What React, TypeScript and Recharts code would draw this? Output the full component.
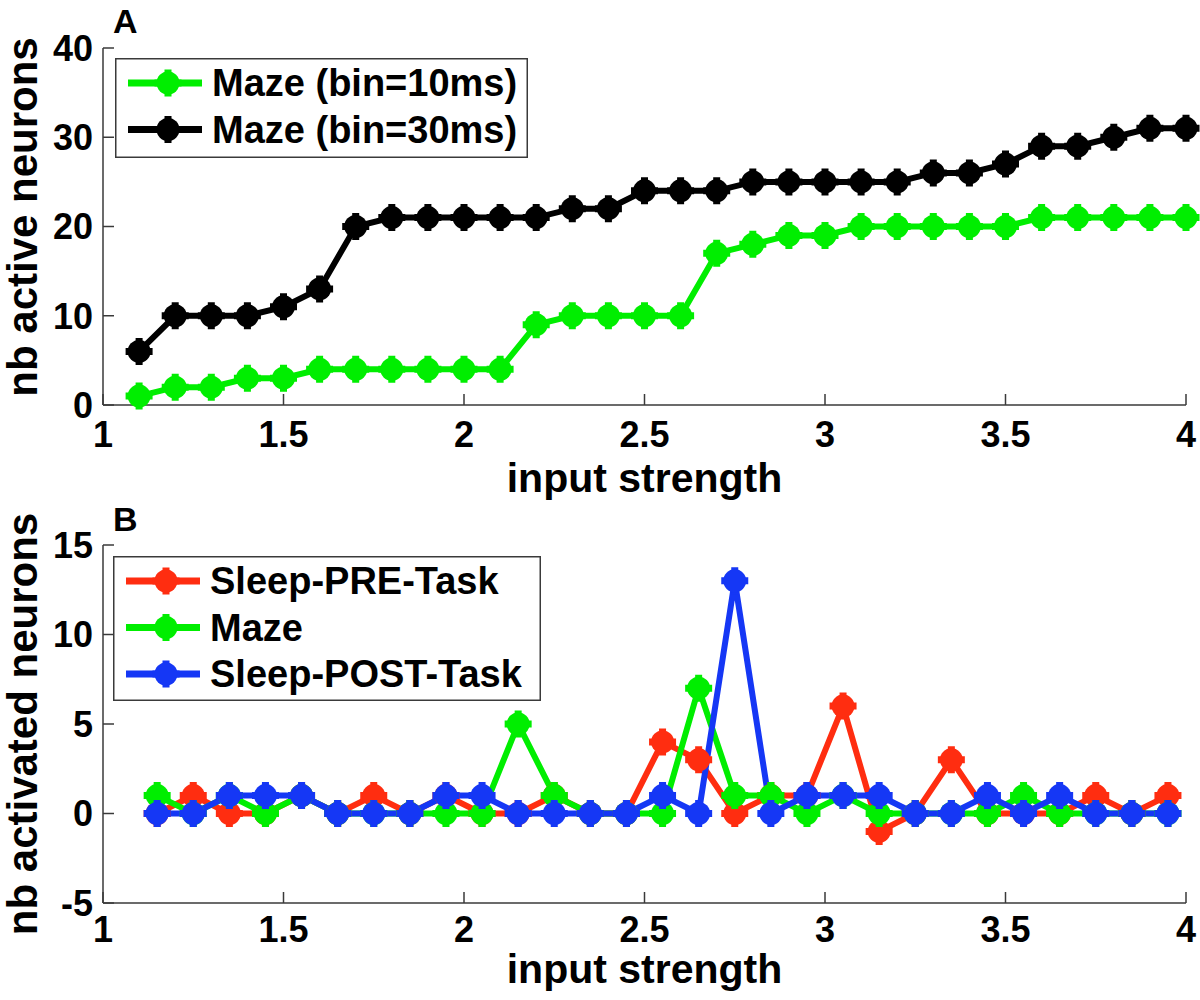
import React from 'react';
import { LineChart, Line, XAxis, YAxis, Legend } from 'recharts';

// ---------- Panel A data ----------
const xA = [1.1, 1.2, 1.3, 1.4, 1.5, 1.6, 1.7, 1.8, 1.9, 2.0, 2.1, 2.2, 2.3, 2.4, 2.5, 2.6, 2.7, 2.8, 2.9, 3.0, 3.1, 3.2, 3.3, 3.4, 3.5, 3.6, 3.7, 3.8, 3.9, 4.0];
const mazeBin10 = [1, 2, 2, 3, 3, 4, 4, 4, 4, 4, 4, 9, 10, 10, 10, 10, 17, 18, 19, 19, 20, 20, 20, 20, 20, 21, 21, 21, 21, 21];
const mazeBin30 = [6, 10, 10, 10, 11, 13, 20, 21, 21, 21, 21, 21, 22, 22, 24, 24, 24, 25, 25, 25, 25, 25, 26, 26, 27, 29, 29, 30, 31, 31];

// ---------- Panel B data ----------
const xB = [1.15, 1.25, 1.35, 1.45, 1.55, 1.65, 1.75, 1.85, 1.95, 2.05, 2.15, 2.25, 2.35, 2.45, 2.55, 2.65, 2.75, 2.85, 2.95, 3.05, 3.15, 3.25, 3.35, 3.45, 3.55, 3.65, 3.75, 3.85, 3.95];
const sleepPre = [0, 1, 0, 0, 1, 0, 1, 0, 1, 0, 0, 1, 0, 0, 4, 3, 0, 1, 1, 6, -1, 0, 3, 0, 0, 0, 1, 0, 1];
const mazeB = [1, 0, 1, 0, 1, 0, 0, 0, 0, 0, 5, 1, 0, 0, 0, 7, 1, 1, 0, 1, 0, 0, 0, 0, 1, 0, 0, 0, 0];
const sleepPost = [0, 0, 1, 1, 1, 0, 0, 0, 1, 1, 0, 0, 0, 0, 1, 0, 13, 0, 1, 1, 1, 0, 0, 1, 0, 1, 0, 0, 0];

// ---------- Ticks / labels ----------
const xTicks = [1, 1.5, 2, 2.5, 3, 3.5, 4];
const yTicksA = [0, 10, 20, 30, 40];
const yTicksB = [-5, 0, 5, 10, 15];
const xLabel = 'input strength';
const yLabelA = 'nb active neurons';
const yLabelB = 'nb activated neurons';
const namesA = ['Maze (bin=10ms)', 'Maze (bin=30ms)'];
const namesB = ['Sleep-PRE-Task', 'Maze', 'Sleep-POST-Task'];

const GREEN = '#00ee00';
const BLACK = '#000000';
const RED = '#ff2d10';
const BLUE = '#1537f5';
const AXIS = '#3a3a3a';
const FONT = '"Liberation Sans", Arial, Helvetica, sans-serif';

const colorsA = [GREEN, BLACK];
const colorsB = [RED, GREEN, BLUE];

const dataA = xA.map((x, i) => ({ x, m10: mazeBin10[i], m30: mazeBin30[i] }));
const dataB = xB.map((x, i) => ({ x, pre: sleepPre[i], maze: mazeB[i], post: sleepPost[i] }));

const Marker = ({ cx, cy, color }: { cx?: number; cy?: number; color: string }) => {
  if (cx == null || cy == null || isNaN(cx) || isNaN(cy)) return null;
  return (
    <g>
      <path d={`M${cx - 13.5},${cy}H${cx + 13.5}M${cx},${cy - 13.5}V${cy + 13.5}`} stroke={color} strokeWidth={7} />
      <circle cx={cx} cy={cy} r={11.5} fill={color} />
    </g>
  );
};

const makeDot = (color: string, prefix: string) => (p: any) => (
  <Marker key={`${prefix}-${p.index}`} cx={p.cx} cy={p.cy} color={color} />
);

const makeLegend = (w: number, h: number, names: string[], colors: string[]) => () => (
  <svg width={w} height={h} style={{ display: 'block', overflow: 'visible' }}>
    <rect x={0.75} y={0.75} width={w - 1.5} height={h - 1.5} fill="#fff" stroke={AXIS} strokeWidth={1.5} />
    {names.map((name, i) => {
      const y = 25 + i * 46.5;
      return (
        <g key={i}>
          <line x1={13} x2={87} y1={y} y2={y} stroke={colors[i]} strokeWidth={7} />
          <Marker cx={53} cy={y} color={colors[i]} />
          <text x={97} y={y} dominantBaseline="central" fontFamily={FONT} fontWeight="bold" fontSize={38} fill="#000">
            {name}
          </text>
        </g>
      );
    })}
  </svg>
);

const tickStyle = { fill: '#000', fontSize: 36, fontWeight: 'bold', fontFamily: FONT } as any;
const axisLineStyle = { stroke: AXIS, strokeWidth: 1.5 };

const yLabelContent = (label: string, cy: number, panel: string, panelY: number) => () => (
  <g>
    <text
      x={37}
      y={cy}
      transform={`rotate(-90, 37, ${cy})`}
      textAnchor="middle"
      fontFamily={FONT}
      fontWeight="bold"
      fontSize={42}
      fill="#000"
    >
      {label}
    </text>
    <text x={113} y={panelY} fontFamily={FONT} fontWeight="bold" fontSize={34} fill="#000">
      {panel}
    </text>
  </g>
);

const xLabelContent = (baseline: number) => () => (
  <text x={644.5} y={baseline} textAnchor="middle" fontFamily={FONT} fontWeight="bold" fontSize={41} fill="#000">
    {xLabel}
  </text>
);

export default function App() {
  return (
    <div style={{ position: 'absolute', left: 0, top: 0, width: 1200, height: 1000, background: '#fff' }}>
      <div style={{ position: 'absolute', left: 0, top: 0 }}>
        <LineChart width={1200} height={500} data={dataA} margin={{ top: 48, right: 14, bottom: 0, left: 0 }}>
          <XAxis
            dataKey="x"
            type="number"
            domain={[1, 4]}
            ticks={xTicks}
            height={95}
            tickSize={-11}
            tickMargin={27}
            tick={tickStyle}
            axisLine={axisLineStyle}
            tickLine={axisLineStyle}
            label={{ content: xLabelContent(492) } as any}
          />
          <XAxis
            xAxisId="top"
            orientation="top"
            dataKey="x"
            type="number"
            domain={[1, 4]}
            ticks={xTicks}
            height={0}
            tickSize={-11}
            tick={false}
            axisLine={axisLineStyle}
            tickLine={axisLineStyle}
          />
          <YAxis
            type="number"
            domain={[0, 40]}
            ticks={yTicksA}
            width={103}
            tickSize={-11}
            tickMargin={21}
            tick={tickStyle}
            axisLine={axisLineStyle}
            tickLine={axisLineStyle}
            label={{ content: yLabelContent(yLabelA, 217, 'A', 33) } as any}
          />
          <YAxis
            yAxisId="right"
            orientation="right"
            type="number"
            domain={[0, 40]}
            ticks={yTicksA}
            width={0}
            tickSize={-11}
            tick={false}
            axisLine={axisLineStyle}
            tickLine={axisLineStyle}
          />
          <Legend
            layout="horizontal"
            verticalAlign="middle"
            align="center"
            content={makeLegend(413, 100, namesA, colorsA) as any}
            wrapperStyle={{ left: 115, top: 58, width: 413, height: 100 }}
          />
          <Line
            dataKey="m10"
            name={namesA[0]}
            stroke={GREEN}
            strokeWidth={6}
            dot={makeDot(GREEN, 'g') as any}
            isAnimationActive={false}
          />
          <Line
            dataKey="m30"
            name={namesA[1]}
            stroke={BLACK}
            strokeWidth={6}
            dot={makeDot(BLACK, 'k') as any}
            isAnimationActive={false}
          />
        </LineChart>
      </div>
      <div style={{ position: 'absolute', left: 0, top: 490 }}>
        <LineChart width={1200} height={510} data={dataB} margin={{ top: 55, right: 14, bottom: 0, left: 0 }}>
          <XAxis
            dataKey="x"
            type="number"
            domain={[1, 4]}
            ticks={xTicks}
            height={97}
            tickSize={-11}
            tickMargin={24}
            tick={tickStyle}
            axisLine={axisLineStyle}
            tickLine={axisLineStyle}
            label={{ content: xLabelContent(493) } as any}
          />
          <XAxis
            xAxisId="top"
            orientation="top"
            dataKey="x"
            type="number"
            domain={[1, 4]}
            ticks={xTicks}
            height={0}
            tickSize={-11}
            tick={false}
            axisLine={axisLineStyle}
            tickLine={axisLineStyle}
          />
          <YAxis
            type="number"
            domain={[-5, 15]}
            ticks={yTicksB}
            width={103}
            tickSize={-11}
            tickMargin={21}
            tick={tickStyle}
            axisLine={axisLineStyle}
            tickLine={axisLineStyle}
            label={{ content: yLabelContent(yLabelB, 234, 'B', 41) } as any}
          />
          <YAxis
            yAxisId="right"
            orientation="right"
            type="number"
            domain={[-5, 15]}
            ticks={yTicksB}
            width={0}
            tickSize={-11}
            tick={false}
            axisLine={axisLineStyle}
            tickLine={axisLineStyle}
          />
          <Legend
            layout="horizontal"
            verticalAlign="middle"
            align="center"
            content={makeLegend(428, 145, namesB, colorsB) as any}
            wrapperStyle={{ left: 113, top: 66, width: 428, height: 145 }}
          />
          <Line
            dataKey="pre"
            name={namesB[0]}
            stroke={RED}
            strokeWidth={6}
            dot={makeDot(RED, 'r') as any}
            isAnimationActive={false}
          />
          <Line
            dataKey="maze"
            name={namesB[1]}
            stroke={GREEN}
            strokeWidth={6}
            dot={makeDot(GREEN, 'g') as any}
            isAnimationActive={false}
          />
          <Line
            dataKey="post"
            name={namesB[2]}
            stroke={BLUE}
            strokeWidth={6}
            dot={makeDot(BLUE, 'b') as any}
            isAnimationActive={false}
          />
        </LineChart>
      </div>
    </div>
  );
}
